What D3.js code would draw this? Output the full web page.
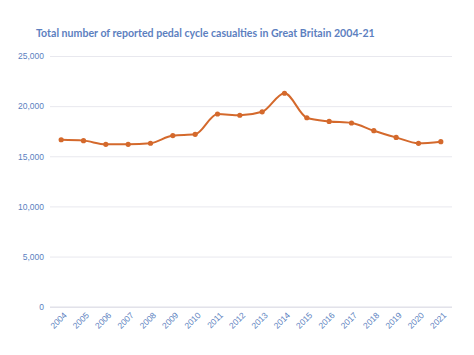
<!DOCTYPE html>
<html><head><meta charset="utf-8">
<script src="https://cdn.jsdelivr.net/npm/d3@7"></script>
<style>body{margin:0;background:#fff;}svg{display:block;font-family:Lato,"Open Sans",sans-serif;}</style>
</head><body>
<svg id="c" width="474" height="355"></svg>
<script>
const years = ["2004","2005","2006","2007","2008","2009","2010","2011","2012","2013","2014","2015","2016","2017","2018","2019","2020","2021"];
const casualties = [16648,16561,16196,16195,16297,17064,17185,19215,19091,19438,21287,18844,18477,18321,17550,16884,16294,16458];
const yTicks = [0,5000,10000,15000,20000,25000];
const title = "Total number of reported pedal cycle casualties in Great Britain 2004-21";

(function(){
const svg = d3.select("#c");
const mLeft = 50, mRight = 452, mTop = 56, mBottom = 306.7;
const x = d3.scalePoint().domain(years).range([mLeft, mRight]).padding(0.5);
const y = d3.scaleLinear().domain([0, 25000]).range([mBottom, mTop]);
const txt = "#5b7fc0";

svg.append("text").attr("x", 36).attr("y", 37).attr("fill", "#5d7fbf")
  .attr("font-size", 10.6).attr("font-weight", "bold").text(title);

const ya = svg.append("g").attr("transform", `translate(${mLeft},0)`)
  .call(d3.axisLeft(y).tickValues(yTicks).tickSize(-(mRight-mLeft)).tickPadding(6).tickFormat(d3.format(",")));
ya.select(".domain").remove();
ya.selectAll("line").attr("stroke", "#e8e8ee").attr("stroke-width", 1);
ya.selectAll("text").attr("fill", txt).attr("font-size", 8.5);

const xa = svg.append("g").attr("transform", `translate(0,${mBottom})`)
  .call(d3.axisBottom(x).tickSize(0).tickPadding(6));
xa.select(".domain").attr("d", `M${mLeft},0.5H${mRight}`).attr("stroke", "#dcdce6");
xa.selectAll(".tick").attr("transform", d => `translate(${x(d)+4},7)`);
xa.selectAll("text").attr("fill", txt).attr("font-size", 8.5)
  .attr("text-anchor", "end").attr("x", 0).attr("y", 0).attr("dy", "0.35em")
  .attr("transform", "rotate(-45)");

const line = d3.line().x((d,i)=>x(years[i])).y(d=>y(d)).curve(d3.curveMonotoneX);
svg.append("path").datum(casualties).attr("d", line).attr("fill", "none")
  .attr("stroke", "#d4692c").attr("stroke-width", 2);
svg.selectAll("circle.pt").data(casualties).join("circle").attr("class","pt")
  .attr("cx", (d,i)=>x(years[i])).attr("cy", d=>y(d)).attr("r", 2.6).attr("fill", "#d4692c");
})();
</script>
</body></html>
